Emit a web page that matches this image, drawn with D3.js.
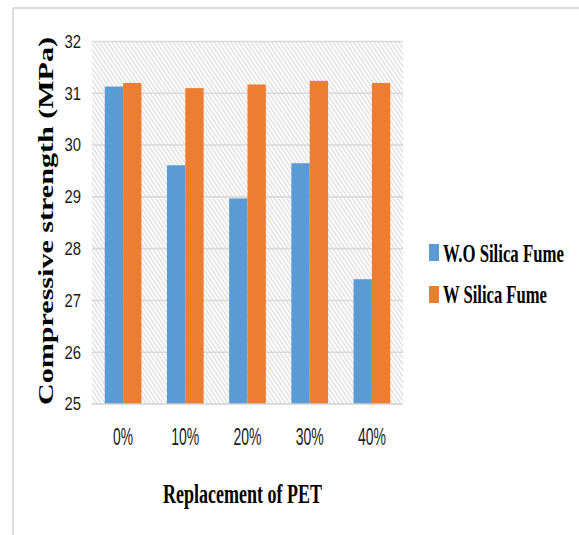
<!DOCTYPE html>
<html>
<head>
<meta charset="utf-8">
<script src="https://cdn.jsdelivr.net/npm/d3@7"></script>
<style>
  html, body { margin: 0; padding: 0; background: #fff; }
  svg { display: block; }
</style>
</head>
<body>
<svg id="chart" width="579" height="535"></svg>
<script>
// PET replacement levels and compressive strength (MPa)
const categories = ["0%", "10%", "20%", "30%", "40%"];
const seriesNames = ["W.O Silica Fume", "W Silica Fume"];
const withoutSilicaFume = [31.13, 29.61, 28.97, 29.65, 27.41];
const withSilicaFume = [31.20, 31.10, 31.17, 31.24, 31.20];
const yTicks = [25, 26, 27, 28, 29, 30, 31, 32];
const colors = ["#5b9bd5", "#ed7d31"];

const svg = d3.select("#chart");
const plot = { left: 92, right: 403, top: 41.5, bottom: 404 };

// squeeze a text element horizontally so it spans the given width
function fitWidth(sel, width, anchorX, baseY, anchor) {
  sel.each(function () {
    const w = this.getComputedTextLength();
    const sx = width / w;
    let x = anchorX;
    d3.select(this).attr("x", 0).attr("y", 0)
      .attr("text-anchor", anchor || "start")
      .attr("transform", `translate(${x},${baseY}) scale(${sx},1)`);
  });
}

// hatched plot background
const defs = svg.append("defs");
const pat = defs.append("pattern")
  .attr("id", "hatch")
  .attr("patternUnits", "userSpaceOnUse")
  .attr("width", 3.4).attr("height", 10)
  .attr("patternTransform", "rotate(-34)");
pat.append("rect").attr("width", 3.4).attr("height", 10).attr("fill", "#ffffff");
pat.append("line").attr("x1", 1).attr("x2", 1).attr("y1", 0).attr("y2", 10)
  .attr("stroke", "#cfcfcf").attr("stroke-width", 0.9);

// outer frame (top and left edges)
svg.append("line").attr("x1", 13).attr("x2", 579).attr("y1", 8).attr("y2", 8)
  .attr("stroke", "#dcdcdc").attr("stroke-width", 2);
svg.append("line").attr("x1", 13).attr("x2", 13).attr("y1", 8).attr("y2", 535)
  .attr("stroke", "#dcdcdc").attr("stroke-width", 2);

const x0 = d3.scaleBand().domain(categories)
  .range([plot.left, plot.right]).paddingInner(0.41).paddingOuter(0.205);
const x1 = d3.scaleBand().domain(seriesNames).range([0, x0.bandwidth()]);
const y = d3.scaleLinear().domain([25, 32]).range([plot.bottom, plot.top]);

svg.append("rect")
  .attr("x", plot.left).attr("y", plot.top - 0.5)
  .attr("width", plot.right - plot.left).attr("height", plot.bottom - plot.top + 0.5)
  .attr("fill", "url(#hatch)");

// horizontal gridlines
svg.append("g").selectAll("line").data(yTicks.filter(t => t > 25)).join("line")
  .attr("x1", plot.left).attr("x2", plot.right)
  .attr("y1", d => y(d)).attr("y2", d => y(d))
  .attr("stroke", "#d9d9d9").attr("stroke-width", 1.6);

// bars
const data = categories.map((c, i) => ({
  cat: c,
  vals: [withoutSilicaFume[i], withSilicaFume[i]]
}));
const groups = svg.append("g").selectAll("g").data(data).join("g")
  .attr("transform", d => `translate(${x0(d.cat)},0)`);
groups.selectAll("rect").data(d => d.vals.map((v, j) => ({ v, j }))).join("rect")
  .attr("x", d => x1(seriesNames[d.j]))
  .attr("width", x1.bandwidth())
  .attr("y", d => y(d.v))
  .attr("height", d => y(25) - y(d.v))
  .attr("fill", d => colors[d.j]);

// baseline
svg.append("line").attr("x1", plot.left).attr("x2", plot.right)
  .attr("y1", plot.bottom).attr("y2", plot.bottom)
  .attr("stroke", "#d0d0d0").attr("stroke-width", 1.6);

// y axis
const yAxis = svg.append("g")
  .attr("transform", `translate(${plot.left},0)`)
  .call(d3.axisLeft(y).tickValues(yTicks).tickSize(0).tickPadding(11).tickFormat(d3.format("d")));
yAxis.select(".domain").remove();
yAxis.selectAll("text")
  .attr("font-family", "'Liberation Sans', Arial, sans-serif")
  .attr("font-size", 18.5)
  .attr("fill", "#1a1a1a")
  .attr("textLength", 16.5).attr("lengthAdjust", "spacingAndGlyphs");

// x axis
const xAxis = svg.append("g")
  .attr("transform", `translate(0,${plot.bottom})`)
  .call(d3.axisBottom(x0).tickSize(0).tickPadding(25));
xAxis.select(".domain").remove();
xAxis.selectAll("text")
  .attr("font-family", "'Liberation Sans', Arial, sans-serif")
  .attr("font-size", 23)
  .attr("fill", "#1a1a1a")
  .attr("textLength", d => d.length === 2 ? 20 : 28)
  .attr("lengthAdjust", "spacingAndGlyphs");

// axis titles
svg.append("text")
  .attr("transform", "translate(53,221) rotate(-90)")
  .attr("text-anchor", "middle")
  .attr("font-family", "'Liberation Serif', 'Times New Roman', serif")
  .attr("font-weight", "bold").attr("font-size", 20)
  .attr("textLength", 368).attr("lengthAdjust", "spacingAndGlyphs")
  .attr("fill", "#000")
  .text("Compressive strength (MPa)");

svg.append("text")
  .attr("font-family", "'Liberation Serif', 'Times New Roman', serif")
  .attr("font-weight", "bold").attr("font-size", 27)
  .attr("fill", "#000")
  .text("Replacement of PET")
  .call(fitWidth, 159, 163, 503);

// legend
const legendRows = [
  { name: seriesNames[0], color: colors[0], top: 244, base: 262, len: 121 },
  { name: seriesNames[1], color: colors[1], top: 286, base: 303, len: 104 }
];
const lg = svg.append("g").selectAll("g").data(legendRows).join("g");
lg.append("rect")
  .attr("x", 429).attr("y", d => d.top).attr("width", 10).attr("height", 17)
  .attr("fill", d => d.color);
lg.append("text")
  .attr("font-family", "'Liberation Serif', 'Times New Roman', serif")
  .attr("font-weight", "bold").attr("font-size", 25)
  .attr("fill", "#000")
  .text(d => d.name)
  .each(function (d) { d3.select(this).call(fitWidth, d.len, 443, d.base); });
</script>
</body>
</html>
